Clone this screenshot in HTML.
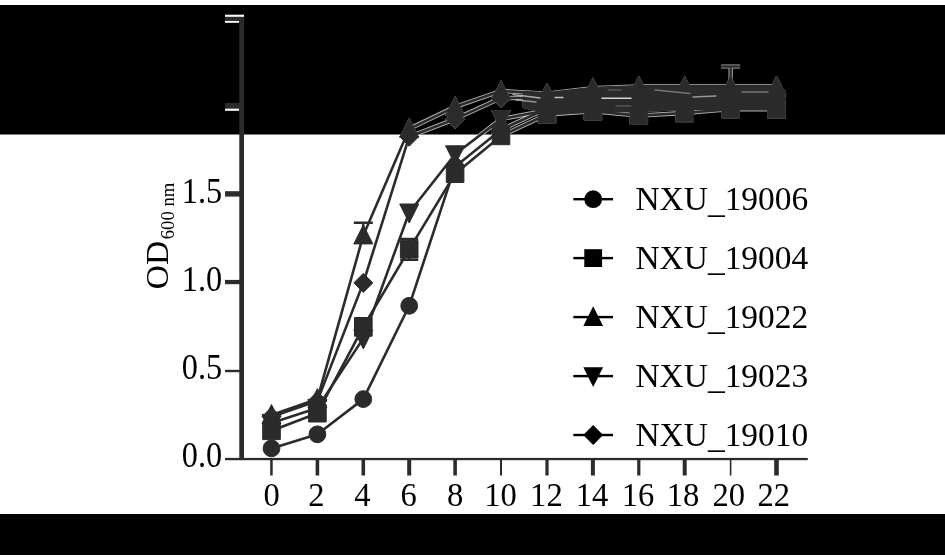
<!DOCTYPE html>
<html><head><meta charset="utf-8"><title>Growth curve</title>
<style>html,body{margin:0;padding:0;background:#fff;overflow:hidden}svg{display:block}</style></head>
<body>
<svg width="945" height="557" viewBox="0 0 945 557">
<defs><clipPath id="topband"><rect x="0" y="5" width="945" height="129.5"/></clipPath></defs>
<rect x="0" y="0" width="945" height="557" fill="#fff"/>
<rect x="0" y="5" width="945" height="129.5" fill="#000"/>
<rect x="0" y="514" width="945" height="41" fill="#000"/>
<g clip-path="url(#topband)" stroke="#fff" stroke-opacity="0.7" fill="#fff" fill-opacity="0.7" stroke-linejoin="round">
<polygon points="524.0,106.8 524.0,92.4 547.0,93.6 592.9,88.3 638.8,86.5 684.7,86.5 730.6,86.5 776.5,86.5 776.5,107.0 730.6,108.8 684.7,108.8 638.8,110.6 592.9,111.4 547.0,112.3" stroke-width="3"/>
<polyline points="271.5,448.4 317.4,434.3 363.3,399.1 409.2,305.8 455.1,166.7 501.0,129.7 547.0,108.6 592.9,103.3 638.8,103.3 684.7,101.5 730.6,99.8 776.5,98.0" fill="none" stroke-width="4.4"/>
<polyline points="271.5,430.8 317.4,413.2 363.3,326.9 409.2,249.4 455.1,173.7 501.0,135.9 547.0,114.5 592.9,111.2 638.8,115.6 684.7,113.0 730.6,109.1 776.5,109.4" fill="none" stroke-width="4.4"/>
<polyline points="271.5,415.0 317.4,399.1 363.3,235.4 409.2,128.8 455.1,106.8 501.0,91.0 547.0,93.6 592.9,88.3 638.8,86.5 684.7,86.5 730.6,86.5 776.5,86.5" fill="none" stroke-width="4.4"/>
<polyline points="271.5,422.9 317.4,407.9 363.3,338.4 409.2,212.5 455.1,154.3 501.0,119.1 547.0,110.3 592.9,109.4 638.8,108.6 684.7,106.8 730.6,106.8 776.5,105.0" fill="none" stroke-width="4.4"/>
<polyline points="271.5,416.7 317.4,400.9 363.3,282.9 409.2,136.7 455.1,119.1 501.0,98.0 547.0,98.0 592.9,94.5 638.8,94.5 684.7,92.7 730.6,92.7 776.5,91.0" fill="none" stroke-width="4.4"/>
<path d="M363.3 222.7V235.4M353.8 222.7h19" fill="none" stroke-width="4.2"/>
<path d="M730.6 66.5V86.5M721.1 66.5h19" fill="none" stroke-width="4.2"/>
<path d="M409.2 238.9V260.0M400.2 238.9h18M400.2 260.0h18" fill="none" stroke-width="4"/>
<path d="M363.3 318.1V335.7M354.3 318.1h18M354.3 335.7h18" fill="none" stroke-width="4"/>
<circle cx="271.5" cy="448.4" r="8.4"/>
<circle cx="317.4" cy="434.3" r="8.4"/>
<circle cx="363.3" cy="399.1" r="8.4"/>
<circle cx="409.2" cy="305.8" r="8.4"/>
<circle cx="455.1" cy="166.7" r="8.4"/>
<circle cx="501.0" cy="129.7" r="8.4"/>
<circle cx="547.0" cy="108.6" r="8.4"/>
<circle cx="592.9" cy="103.3" r="8.4"/>
<circle cx="638.8" cy="103.3" r="8.4"/>
<circle cx="684.7" cy="101.5" r="8.4"/>
<circle cx="730.6" cy="99.8" r="8.4"/>
<circle cx="776.5" cy="98.0" r="8.4"/>
<rect x="262.7" y="422.0" width="17.6" height="17.6"/>
<rect x="308.6" y="404.4" width="17.6" height="17.6"/>
<rect x="354.5" y="318.1" width="17.6" height="17.6"/>
<rect x="400.4" y="240.6" width="17.6" height="17.6"/>
<rect x="446.3" y="164.9" width="17.6" height="17.6"/>
<rect x="492.2" y="127.1" width="17.6" height="17.6"/>
<rect x="538.2" y="105.7" width="17.6" height="17.6"/>
<rect x="584.1" y="102.4" width="17.6" height="17.6"/>
<rect x="630.0" y="106.8" width="17.6" height="17.6"/>
<rect x="675.9" y="104.2" width="17.6" height="17.6"/>
<rect x="721.8" y="100.3" width="17.6" height="17.6"/>
<rect x="767.7" y="100.6" width="17.6" height="17.6"/>
<path d="M271.5 404.5L281.0 423.5H262.0Z"/>
<path d="M317.4 388.6L326.9 407.6H307.9Z"/>
<path d="M363.3 224.9L372.8 243.9H353.8Z"/>
<path d="M409.2 118.3L418.7 137.3H399.7Z"/>
<path d="M455.1 96.3L464.6 115.3H445.6Z"/>
<path d="M501.0 80.5L510.5 99.5H491.5Z"/>
<path d="M547.0 83.1L556.5 102.1H537.5Z"/>
<path d="M592.9 77.8L602.4 96.8H583.4Z"/>
<path d="M638.8 76.0L648.3 95.0H629.3Z"/>
<path d="M684.7 76.0L694.2 95.0H675.2Z"/>
<path d="M730.6 76.0L740.1 95.0H721.1Z"/>
<path d="M776.5 76.0L786.0 95.0H767.0Z"/>
<path d="M271.5 433.4L281.0 414.4H262.0Z"/>
<path d="M317.4 418.4L326.9 399.4H307.9Z"/>
<path d="M363.3 348.9L372.8 329.9H353.8Z"/>
<path d="M409.2 223.0L418.7 204.0H399.7Z"/>
<path d="M455.1 164.8L464.6 145.8H445.6Z"/>
<path d="M501.0 129.6L510.5 110.6H491.5Z"/>
<path d="M547.0 120.8L556.5 101.8H537.5Z"/>
<path d="M592.9 119.9L602.4 100.9H583.4Z"/>
<path d="M638.8 119.1L648.3 100.1H629.3Z"/>
<path d="M684.7 117.3L694.2 98.3H675.2Z"/>
<path d="M730.6 117.3L740.1 98.3H721.1Z"/>
<path d="M776.5 115.5L786.0 96.5H767.0Z"/>
<path d="M271.5 407.2L281.0 416.7L271.5 426.2L262.0 416.7Z"/>
<path d="M317.4 391.4L326.9 400.9L317.4 410.4L307.9 400.9Z"/>
<path d="M363.3 273.4L372.8 282.9L363.3 292.4L353.8 282.9Z"/>
<path d="M409.2 127.2L418.7 136.7L409.2 146.2L399.7 136.7Z"/>
<path d="M455.1 109.6L464.6 119.1L455.1 128.6L445.6 119.1Z"/>
<path d="M501.0 88.5L510.5 98.0L501.0 107.5L491.5 98.0Z"/>
<path d="M547.0 88.5L556.5 98.0L547.0 107.5L537.5 98.0Z"/>
<path d="M592.9 85.0L602.4 94.5L592.9 104.0L583.4 94.5Z"/>
<path d="M638.8 85.0L648.3 94.5L638.8 104.0L629.3 94.5Z"/>
<path d="M684.7 83.2L694.2 92.7L684.7 102.2L675.2 92.7Z"/>
<path d="M730.6 83.2L740.1 92.7L730.6 102.2L721.1 92.7Z"/>
<path d="M776.5 81.5L786.0 91.0L776.5 100.5L767.0 91.0Z"/>
</g>
<rect x="225" y="14.7" width="19" height="2.2" fill="#fff"/>
<rect x="225" y="20.7" width="14.2" height="2.1" fill="#fff"/>
<rect x="225" y="108.4" width="14.2" height="2.4" fill="#fff"/>
<g fill="#2b2b2b">
<rect x="239.3" y="16.9" width="4.7" height="443.2"/>
<rect x="225" y="457.9" width="582.8" height="2.3"/>
<rect x="225" y="16.9" width="15" height="3.8"/>
<rect x="225" y="103" width="15" height="5.4"/>
<rect x="225" y="191.2" width="15" height="5.4"/>
<rect x="225" y="279.9" width="15" height="4.3"/>
<rect x="225" y="369.8" width="15" height="2.4"/>
<rect x="270.2" y="459" width="2.5" height="16.5"/>
<rect x="315.6" y="459" width="3.6" height="16.5"/>
<rect x="361.5" y="459" width="3.6" height="16.5"/>
<rect x="407.2" y="459" width="4" height="16.5"/>
<rect x="453.3" y="459" width="3.6" height="16.5"/>
<rect x="500.0" y="459" width="2" height="16.5"/>
<rect x="545.4" y="459" width="3.2" height="16.5"/>
<rect x="590.9" y="459" width="4" height="16.5"/>
<rect x="637.2" y="459" width="3.2" height="16.5"/>
<rect x="682.7" y="459" width="4" height="16.5"/>
<rect x="729.8" y="459" width="1.6" height="16.5"/>
<rect x="774.2" y="459" width="4.6" height="16.5"/>
</g>
<g stroke="#2b2b2b" fill="#2b2b2b" stroke-linejoin="round">
<polygon points="524.0,106.8 524.0,92.4 547.0,93.6 592.9,88.3 638.8,86.5 684.7,86.5 730.6,86.5 776.5,86.5 776.5,107.0 730.6,108.8 684.7,108.8 638.8,110.6 592.9,111.4 547.0,112.3" stroke-width="3"/>
<polyline points="271.5,448.4 317.4,434.3 363.3,399.1 409.2,305.8 455.1,166.7 501.0,129.7 547.0,108.6 592.9,103.3 638.8,103.3 684.7,101.5 730.6,99.8 776.5,98.0" fill="none" stroke-width="2.6"/>
<polyline points="271.5,430.8 317.4,413.2 363.3,326.9 409.2,249.4 455.1,173.7 501.0,135.9 547.0,114.5 592.9,111.2 638.8,115.6 684.7,113.0 730.6,109.1 776.5,109.4" fill="none" stroke-width="2.6"/>
<polyline points="271.5,415.0 317.4,399.1 363.3,235.4 409.2,128.8 455.1,106.8 501.0,91.0 547.0,93.6 592.9,88.3 638.8,86.5 684.7,86.5 730.6,86.5 776.5,86.5" fill="none" stroke-width="2.6"/>
<polyline points="271.5,422.9 317.4,407.9 363.3,338.4 409.2,212.5 455.1,154.3 501.0,119.1 547.0,110.3 592.9,109.4 638.8,108.6 684.7,106.8 730.6,106.8 776.5,105.0" fill="none" stroke-width="2.6"/>
<polyline points="271.5,416.7 317.4,400.9 363.3,282.9 409.2,136.7 455.1,119.1 501.0,98.0 547.0,98.0 592.9,94.5 638.8,94.5 684.7,92.7 730.6,92.7 776.5,91.0" fill="none" stroke-width="2.6"/>
<path d="M363.3 222.7V235.4M353.8 222.7h19" fill="none" stroke-width="2.4"/>
<path d="M730.6 66.5V86.5M721.1 66.5h19" fill="none" stroke-width="2.4"/>
<path d="M409.2 238.9V260.0M400.2 238.9h18M400.2 260.0h18" fill="none" stroke-width="2.2"/>
<path d="M363.3 318.1V335.7M354.3 318.1h18M354.3 335.7h18" fill="none" stroke-width="2.2"/>
<circle cx="271.5" cy="448.4" r="8.4"/>
<circle cx="317.4" cy="434.3" r="8.4"/>
<circle cx="363.3" cy="399.1" r="8.4"/>
<circle cx="409.2" cy="305.8" r="8.4"/>
<circle cx="455.1" cy="166.7" r="8.4"/>
<circle cx="501.0" cy="129.7" r="8.4"/>
<circle cx="547.0" cy="108.6" r="8.4"/>
<circle cx="592.9" cy="103.3" r="8.4"/>
<circle cx="638.8" cy="103.3" r="8.4"/>
<circle cx="684.7" cy="101.5" r="8.4"/>
<circle cx="730.6" cy="99.8" r="8.4"/>
<circle cx="776.5" cy="98.0" r="8.4"/>
<rect x="262.7" y="422.0" width="17.6" height="17.6"/>
<rect x="308.6" y="404.4" width="17.6" height="17.6"/>
<rect x="354.5" y="318.1" width="17.6" height="17.6"/>
<rect x="400.4" y="240.6" width="17.6" height="17.6"/>
<rect x="446.3" y="164.9" width="17.6" height="17.6"/>
<rect x="492.2" y="127.1" width="17.6" height="17.6"/>
<rect x="538.2" y="105.7" width="17.6" height="17.6"/>
<rect x="584.1" y="102.4" width="17.6" height="17.6"/>
<rect x="630.0" y="106.8" width="17.6" height="17.6"/>
<rect x="675.9" y="104.2" width="17.6" height="17.6"/>
<rect x="721.8" y="100.3" width="17.6" height="17.6"/>
<rect x="767.7" y="100.6" width="17.6" height="17.6"/>
<path d="M271.5 404.5L281.0 423.5H262.0Z"/>
<path d="M317.4 388.6L326.9 407.6H307.9Z"/>
<path d="M363.3 224.9L372.8 243.9H353.8Z"/>
<path d="M409.2 118.3L418.7 137.3H399.7Z"/>
<path d="M455.1 96.3L464.6 115.3H445.6Z"/>
<path d="M501.0 80.5L510.5 99.5H491.5Z"/>
<path d="M547.0 83.1L556.5 102.1H537.5Z"/>
<path d="M592.9 77.8L602.4 96.8H583.4Z"/>
<path d="M638.8 76.0L648.3 95.0H629.3Z"/>
<path d="M684.7 76.0L694.2 95.0H675.2Z"/>
<path d="M730.6 76.0L740.1 95.0H721.1Z"/>
<path d="M776.5 76.0L786.0 95.0H767.0Z"/>
<path d="M271.5 433.4L281.0 414.4H262.0Z"/>
<path d="M317.4 418.4L326.9 399.4H307.9Z"/>
<path d="M363.3 348.9L372.8 329.9H353.8Z"/>
<path d="M409.2 223.0L418.7 204.0H399.7Z"/>
<path d="M455.1 164.8L464.6 145.8H445.6Z"/>
<path d="M501.0 129.6L510.5 110.6H491.5Z"/>
<path d="M547.0 120.8L556.5 101.8H537.5Z"/>
<path d="M592.9 119.9L602.4 100.9H583.4Z"/>
<path d="M638.8 119.1L648.3 100.1H629.3Z"/>
<path d="M684.7 117.3L694.2 98.3H675.2Z"/>
<path d="M730.6 117.3L740.1 98.3H721.1Z"/>
<path d="M776.5 115.5L786.0 96.5H767.0Z"/>
<path d="M271.5 407.2L281.0 416.7L271.5 426.2L262.0 416.7Z"/>
<path d="M317.4 391.4L326.9 400.9L317.4 410.4L307.9 400.9Z"/>
<path d="M363.3 273.4L372.8 282.9L363.3 292.4L353.8 282.9Z"/>
<path d="M409.2 127.2L418.7 136.7L409.2 146.2L399.7 136.7Z"/>
<path d="M455.1 109.6L464.6 119.1L455.1 128.6L445.6 119.1Z"/>
<path d="M501.0 88.5L510.5 98.0L501.0 107.5L491.5 98.0Z"/>
<path d="M547.0 88.5L556.5 98.0L547.0 107.5L537.5 98.0Z"/>
<path d="M592.9 85.0L602.4 94.5L592.9 104.0L583.4 94.5Z"/>
<path d="M638.8 85.0L648.3 94.5L638.8 104.0L629.3 94.5Z"/>
<path d="M684.7 83.2L694.2 92.7L684.7 102.2L675.2 92.7Z"/>
<path d="M730.6 83.2L740.1 92.7L730.6 102.2L721.1 92.7Z"/>
<path d="M776.5 81.5L786.0 91.0L776.5 100.5L767.0 91.0Z"/>
</g>
<g stroke="#fff" fill="none" stroke-linecap="round">
<path d="M602 98.3L631 98.3" stroke-width="1.6" stroke-opacity="0.8"/>
<path d="M555 97.5L563 97.5" stroke-width="1.5" stroke-opacity="0.7"/>
<path d="M513 94.5L540 98" stroke-width="1.5" stroke-opacity="0.6"/>
<path d="M516 100L536 102" stroke-width="1.3" stroke-opacity="0.5"/>
<path d="M608 90L621 90" stroke-width="1.2" stroke-opacity="0.3"/>
<path d="M616 106L631 106" stroke-width="1.2" stroke-opacity="0.3"/>
<path d="M655 90L690 93.5" stroke-width="1.3" stroke-opacity="0.35"/>
<path d="M693 97L716 96" stroke-width="1.4" stroke-opacity="0.5"/>
<path d="M742 92L768 92" stroke-width="1.3" stroke-opacity="0.35"/>
</g>
<g font-family="'Liberation Serif', 'Times New Roman', serif" font-size="33.2px" fill="#000">
<text transform="translate(222.1,203.3) scale(1,1.129)" text-anchor="end" font-size="32.3px">1.5</text>
<text transform="translate(222.1,291.0) scale(1,1.129)" text-anchor="end" font-size="32.3px">1.0</text>
<text transform="translate(222.1,378.8) scale(1,1.129)" text-anchor="end" font-size="32.3px">0.5</text>
<text transform="translate(222.1,466.5) scale(1,1.129)" text-anchor="end" font-size="32.3px">0.0</text>
<text transform="translate(271.7,506.4) scale(1,1.054)" text-anchor="middle" font-size="32.6px">0</text>
<text transform="translate(316.5,506.4) scale(1,1.054)" text-anchor="middle" font-size="32.6px">2</text>
<text transform="translate(362.4,506.4) scale(1,1.054)" text-anchor="middle" font-size="32.6px">4</text>
<text transform="translate(408.6,506.4) scale(1,1.054)" text-anchor="middle" font-size="32.6px">6</text>
<text transform="translate(455.1,506.4) scale(1,1.054)" text-anchor="middle" font-size="32.6px">8</text>
<text transform="translate(500.5,506.4) scale(1,1.054)" text-anchor="middle" font-size="32.6px">10</text>
<text transform="translate(546.4,506.4) scale(1,1.054)" text-anchor="middle" font-size="32.6px">12</text>
<text transform="translate(592.0,506.4) scale(1,1.054)" text-anchor="middle" font-size="32.6px">14</text>
<text transform="translate(638.0,506.4) scale(1,1.054)" text-anchor="middle" font-size="32.6px">16</text>
<text transform="translate(683.0,506.4) scale(1,1.054)" text-anchor="middle" font-size="32.6px">18</text>
<text transform="translate(728.7,506.4) scale(1,1.054)" text-anchor="middle" font-size="32.6px">20</text>
<text transform="translate(773.8,506.4) scale(1,1.054)" text-anchor="middle" font-size="32.6px">22</text>
<rect x="573.3" y="198.0" width="39.7" height="2.4"/>
<circle cx="593.2" cy="199.2" r="8.9"/>
<text transform="translate(635.4,210.3) scale(1.008,1.018)">NXU<tspan dy="2.2">_</tspan><tspan dy="-2.2">19006</tspan></text>
<rect x="573.3" y="256.9" width="39.7" height="2.4"/>
<rect x="584.3" y="249.2" width="17.8" height="17.8"/>
<text transform="translate(635.4,269.2) scale(1.008,1.018)">NXU<tspan dy="2.2">_</tspan><tspan dy="-2.2">19004</tspan></text>
<rect x="573.3" y="315.9" width="39.7" height="2.4"/>
<path d="M593.2 306.2L603.1 326.0H583.3Z"/>
<text transform="translate(635.4,328.2) scale(1.008,1.018)">NXU<tspan dy="2.2">_</tspan><tspan dy="-2.2">19022</tspan></text>
<rect x="573.3" y="374.9" width="39.7" height="2.4"/>
<path d="M593.2 386.9L603.1 367.2H583.3Z"/>
<text transform="translate(635.4,387.2) scale(1.008,1.018)">NXU<tspan dy="2.2">_</tspan><tspan dy="-2.2">19023</tspan></text>
<rect x="573.3" y="433.8" width="39.7" height="2.4"/>
<path d="M593.2 425.1L603.1 435.0L593.2 444.9L583.3 435.0Z"/>
<text transform="translate(635.4,446.1) scale(1.008,1.018)">NXU<tspan dy="2.2">_</tspan><tspan dy="-2.2">19010</tspan></text>
<text transform="translate(167.9,289.2) rotate(-90) scale(1.06,1)" font-size="31.6px">OD</text>
<text transform="translate(174.4,239.3) rotate(-90) scale(1.0,1.0)" font-size="18.7px">600 nm</text>
</g>
</svg>
</body></html>
